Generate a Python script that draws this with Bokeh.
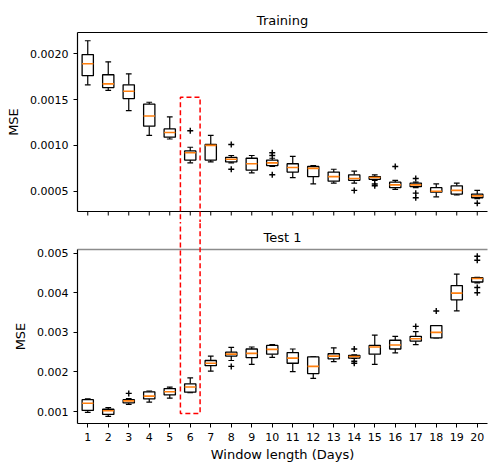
from bokeh.plotting import figure
from bokeh.models import Range1d, FixedTicker, PrintfTickFormatter, ColumnDataSource, LinearAxis
from bokeh.layouts import column
from bokeh.transform import dodge
from bokeh.embed import file_html
from bokeh.resources import INLINE

# ---------------- data ----------------
windows = list(range(1, 21))
tick_labels = [str(w) for w in windows]

# Training panel (whisker low, Q1, median, Q3, whisker high)
train_lo  = [0.00166, 0.00160, 0.00138, 0.00111, 0.00107, 0.00081, 0.00082, 0.00081, 0.00070, 0.00077,
             0.00065, 0.00058, 0.00059, 0.00059, 0.00062, 0.00052, 0.00054, 0.00044, 0.00046, 0.00042]
train_q1  = [0.00176, 0.00163, 0.00151, 0.00121, 0.00109, 0.00084, 0.00084, 0.00082, 0.00073, 0.00078,
             0.00071, 0.00066, 0.00061, 0.00062, 0.00063, 0.00054, 0.00055, 0.00049, 0.00047, 0.00043]
train_med = [0.00189, 0.00167, 0.00159, 0.00132, 0.00114, 0.00092, 0.00100, 0.00085, 0.00080, 0.00081,
             0.00076, 0.00075, 0.00066, 0.00064, 0.00065, 0.00057, 0.00057, 0.00050, 0.00051, 0.00045]
train_q3  = [0.00199, 0.00177, 0.00166, 0.00145, 0.00118, 0.00094, 0.00101, 0.00087, 0.00086, 0.00084,
             0.00080, 0.00077, 0.00071, 0.00068, 0.00066, 0.00060, 0.00059, 0.00054, 0.00056, 0.00047]
train_hi  = [0.00214, 0.00191, 0.00178, 0.00147, 0.00131, 0.00098, 0.00111, 0.00089, 0.00089, 0.00086,
             0.00088, 0.00078, 0.00074, 0.00072, 0.00068, 0.00062, 0.00060, 0.00058, 0.00059, 0.00051]
train_out_x = [6, 8, 8, 10, 10, 10, 14, 15, 15, 16, 17, 17, 17, 20]
train_out_y = [0.00116, 0.00101, 0.00074, 0.00092, 0.00089, 0.00068, 0.00051, 0.00058, 0.00056,
               0.00077, 0.00064, 0.00048, 0.00043, 0.00037]

# Test 1 panel
test_lo  = [0.00098, 0.00088, 0.00118, 0.00124, 0.00134, 0.00148, 0.00202, 0.00229, 0.00219, 0.00237,
            0.00201, 0.00184, 0.00226, 0.00234, 0.00219, 0.00248, 0.00269, 0.00286, 0.00354, 0.00425]
test_q1  = [0.00103, 0.00093, 0.00122, 0.00132, 0.00142, 0.00149, 0.00216, 0.00240, 0.00236, 0.00245,
            0.00222, 0.00196, 0.00233, 0.00235, 0.00245, 0.00258, 0.00278, 0.00286, 0.00382, 0.00427]
test_med = [0.00121, 0.00102, 0.00127, 0.00139, 0.00150, 0.00162, 0.00222, 0.00245, 0.00247, 0.00257,
            0.00235, 0.00214, 0.00240, 0.00239, 0.00263, 0.00268, 0.00284, 0.00300, 0.00399, 0.00436]
test_q3  = [0.00130, 0.00106, 0.00130, 0.00150, 0.00158, 0.00170, 0.00229, 0.00250, 0.00258, 0.00267,
            0.00249, 0.00238, 0.00246, 0.00242, 0.00267, 0.00280, 0.00290, 0.00317, 0.00418, 0.00438]
test_hi  = [0.00132, 0.00110, 0.00133, 0.00152, 0.00162, 0.00185, 0.00240, 0.00262, 0.00263, 0.00269,
            0.00258, 0.00238, 0.00261, 0.00243, 0.00293, 0.00290, 0.00302, 0.00317, 0.00447, 0.00439]
test_out_x = [3, 8, 14, 14, 14, 17, 18, 20, 20, 20, 20]
test_out_y = [0.00146, 0.00214, 0.00258, 0.00227, 0.00222, 0.00315, 0.00354,
              0.00492, 0.00482, 0.00413, 0.00400]

train_yticks = [0.0005, 0.0010, 0.0015, 0.0020]
test_yticks = [0.001, 0.002, 0.003, 0.004, 0.005]

# highlighted window (red dashed box)
highlight_x = [5.52, 6.48]
highlight_top = 0.001525    # in Training units
highlight_bottom = 0.00095  # in Test 1 units

FONT = "DejaVu Sans"
ORANGE = "#ff7f0e"
TICK_PX = 4


def style_axis(ax, color="#000000", width=1.2):
    ax.major_label_text_font = FONT
    ax.major_label_text_font_size = "11px"
    ax.major_label_text_color = "#000000"
    ax.axis_label_text_font = FONT
    ax.axis_label_text_font_size = "13px"
    ax.axis_label_text_font_style = "normal"
    ax.axis_label_text_color = "#000000"
    ax.major_tick_in = 0
    ax.major_tick_out = TICK_PX
    ax.minor_tick_line_color = None
    ax.axis_line_color = color
    ax.axis_line_width = width
    ax.major_tick_line_color = "#000000"


def style(p, ticks, fmt):
    p.xgrid.visible = False
    p.ygrid.visible = False
    p.outline_line_color = None
    p.title.text_font = FONT
    p.title.text_font_size = "13px"
    p.title.text_font_style = "normal"
    p.title.align = "center"
    p.title.text_color = "#000000"
    style_axis(p.yaxis[0])
    p.yaxis.ticker = FixedTicker(ticks=ticks)
    p.yaxis.formatter = PrintfTickFormatter(format=fmt)
    p.yaxis.axis_label = "MSE"
    p.yaxis.axis_label_standoff = 6
    p.yaxis.major_label_standoff = 5


def bare_axis(color, width):
    # plain frame edge: an axis with no ticks and no labels
    return LinearAxis(ticker=FixedTicker(ticks=[]), axis_line_color=color, axis_line_width=width,
                      major_tick_line_color=None, minor_tick_line_color=None,
                      major_tick_in=0, major_tick_out=0, minor_tick_in=0, minor_tick_out=0,
                      major_label_standoff=0, axis_label_standoff=0)


def boxes(p, lo, q1, med, q3, hi, ox, oy):
    src = ColumnDataSource(dict(x=windows, lo=lo, q1=q1, med=med, q3=q3, hi=hi))
    p.segment(x0="x", y0="lo", x1="x", y1="q1", source=src, line_color="black", line_width=1.2)
    p.segment(x0="x", y0="q3", x1="x", y1="hi", source=src, line_color="black", line_width=1.2)
    p.segment(x0=dodge("x", -0.14), y0="lo", x1=dodge("x", 0.14), y1="lo", source=src,
              line_color="black", line_width=1.2)
    p.segment(x0=dodge("x", -0.14), y0="hi", x1=dodge("x", 0.14), y1="hi", source=src,
              line_color="black", line_width=1.2)
    p.vbar(x="x", width=0.55, bottom="q1", top="q3", source=src, fill_color="white",
           line_color="black", line_width=1.3)
    p.segment(x0=dodge("x", -0.275), y0="med", x1=dodge("x", 0.275), y1="med", source=src,
              line_color=ORANGE, line_width=1.6)
    p.scatter(x=ox, y=oy, marker="cross", size=6, line_color="black", line_width=1.4)


# ---------------- top panel ----------------
T_H, T_TOP, T_BOT = 222, 32, 11
t_y0, t_y1 = 0.00028, 0.00223
top = figure(width=488, height=T_H, output_backend="svg", toolbar_location=None,
             title="Training", x_range=Range1d(0.5, 20.5), y_range=Range1d(t_y0, t_y1),
             x_axis_location=None,
             min_border_left=77, min_border_right=1, min_border_top=T_TOP, min_border_bottom=T_BOT)
style(top, train_yticks, "%.4f")
top.add_layout(bare_axis("#000000", 1.2), "above")
top.add_layout(bare_axis("#000000", 1.2), "below")
boxes(top, train_lo, train_q1, train_med, train_q3, train_hi, train_out_x, train_out_y)
# unlabeled x ticks below the Training frame (shared x axis, labels only on the lower panel)
tick_len = TICK_PX * (t_y1 - t_y0) / (T_H - T_TOP - T_BOT)
top.segment(x0=windows, x1=windows, y0=[t_y0] * len(windows), y1=[t_y0 - tick_len] * len(windows),
            line_color="black", line_width=1.0, level="overlay")
top.multi_line(xs=[[highlight_x[0], highlight_x[0], highlight_x[1], highlight_x[1]]],
               ys=[[-0.01, highlight_top, highlight_top, -0.01]],
               line_color="red", line_dash="5 3", line_width=1.5, level="overlay")

# ---------------- bottom panel ----------------
bot = figure(width=488, height=242, output_backend="svg", toolbar_location=None,
             title="Test 1", x_range=Range1d(0.5, 20.5), y_range=Range1d(0.00070, 0.00509),
             min_border_left=77, min_border_right=1, min_border_top=25, min_border_bottom=39)
style(bot, test_yticks, "%.3f")
xa = bot.below[0]
style_axis(xa)
xa.ticker = FixedTicker(ticks=windows)
xa.major_label_overrides = {w: t for w, t in zip(windows, tick_labels)}
xa.axis_label = "Window length (Days)"
xa.axis_label_standoff = 3
bot.add_layout(bare_axis("#8c8c8c", 1.6), "above")
boxes(bot, test_lo, test_q1, test_med, test_q3, test_hi, test_out_x, test_out_y)
bot.multi_line(xs=[[highlight_x[0], highlight_x[0], highlight_x[1], highlight_x[1]]],
               ys=[[0.02, highlight_bottom, highlight_bottom, 0.02]],
               line_color="red", line_dash="5 3", line_width=1.5, level="overlay")

layout = column(top, bot, spacing=0)
open("out.html", "w").write(file_html(layout, INLINE))
